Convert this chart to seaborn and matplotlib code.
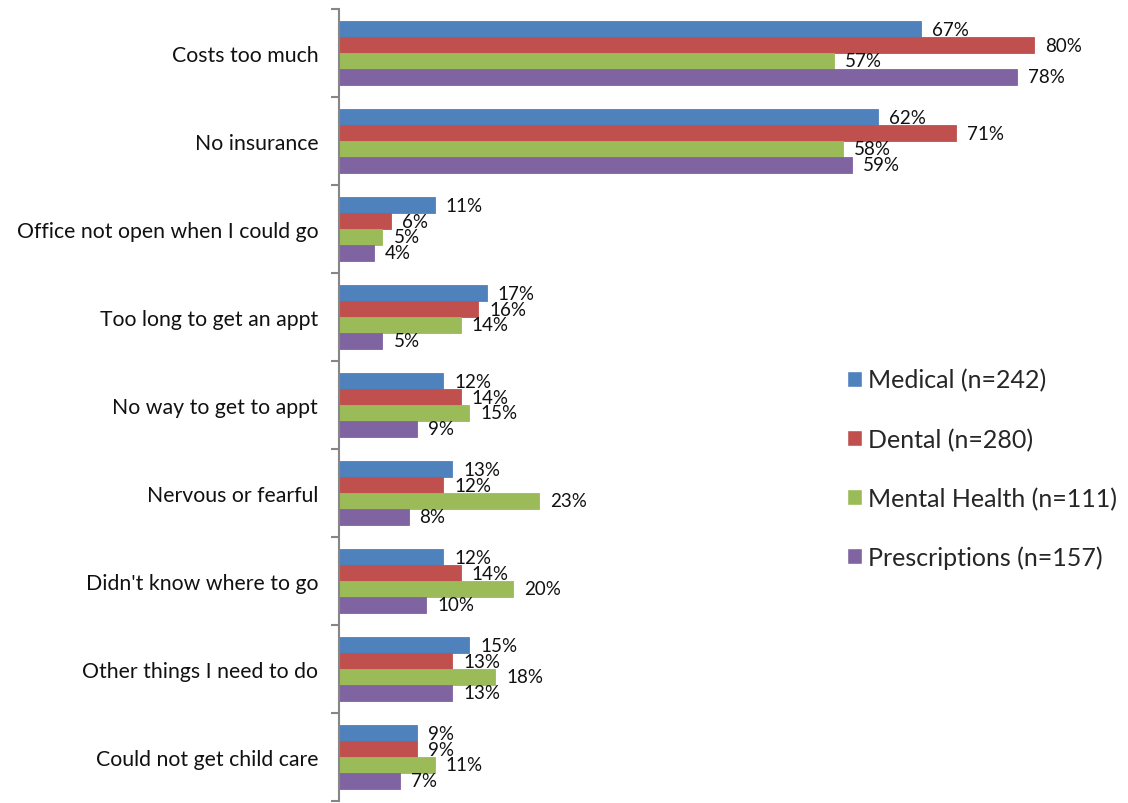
import matplotlib
matplotlib.use("Agg")
import matplotlib.pyplot as plt
import seaborn as sns
import pandas as pd
import numpy as np

categories = [
    "Costs too much",
    "No insurance",
    "Office not open when I could go",
    "Too long to get an appt",
    "No way to get to appt",
    "Nervous or fearful",
    "Didn't know where to go",
    "Other things I need to do",
    "Could not get child care",
]
series_names = ["Medical (n=242)", "Dental (n=280)", "Mental Health (n=111)", "Prescriptions (n=157)"]
medical = [67, 62, 11, 17, 12, 13, 12, 15, 9]
dental = [80, 71, 6, 16, 14, 12, 14, 13, 9]
mental_health = [57, 58, 5, 14, 15, 23, 20, 18, 11]
prescriptions = [78, 59, 4, 5, 9, 8, 10, 13, 7]
colors = ["#4F81BD", "#C0504D", "#9BBB59", "#8064A2"]

rows = []
for name, vals in zip(series_names, [medical, dental, mental_health, prescriptions]):
    for cat, v in zip(categories, vals):
        rows.append({"reason": cat, "series": name, "pct": v})
df = pd.DataFrame(rows)

sns.set_style("white")
plt.rcParams["font.family"] = ["Lato", "DejaVu Sans"]

fig = plt.figure(figsize=(11.28, 8.04), dpi=100)
ax = fig.add_axes([339 / 1128, 2 / 804, 782 / 1128, 792 / 804])

sns.barplot(
    data=df, y="reason", x="pct", hue="series", order=categories,
    hue_order=series_names, palette=colors, orient="h", width=0.727,
    saturation=1, ax=ax, legend=True,
)

for cont in ax.containers:
    for patch in cont:
        patch.set_edgecolor(patch.get_facecolor())
        patch.set_linewidth(0.6)
    ax.bar_label(cont, fmt="{:.0f}%", padding=8, fontsize=13.5, color="#111111")

ax.set_xlim(0, 90)
ax.set_ylim(len(categories) - 0.5, -0.5)
ax.set_xlabel("")
ax.set_ylabel("")
ax.set_xticks([])
for s in ["top", "right", "bottom"]:
    ax.spines[s].set_visible(False)
ax.spines["left"].set_color("#868686")
ax.spines["left"].set_linewidth(1.5)

# Category names centred on each group; short gray ticks mark the group boundaries
ax.set_yticks(range(len(categories)))
ax.set_yticklabels(categories, fontsize=15.3, color="#111111")
ax.tick_params(axis="y", which="major", length=0, pad=15)
ax.set_yticks(np.arange(-0.5, len(categories), 1.0), minor=True)
ax.tick_params(axis="y", which="minor", length=6, width=1.5, color="#868686", left=True)

handles, labels = ax.get_legend_handles_labels()
ax.get_legend().remove()
fig.legend(
    handles, labels, loc="upper left", bbox_to_anchor=(834 / 1128, 1 - 357 / 804),
    frameon=False, fontsize=18, handlelength=0.6, handleheight=0.6,
    handletextpad=0.25, labelspacing=1.43, borderpad=0,
)

fig.savefig("out.png", dpi=100)
